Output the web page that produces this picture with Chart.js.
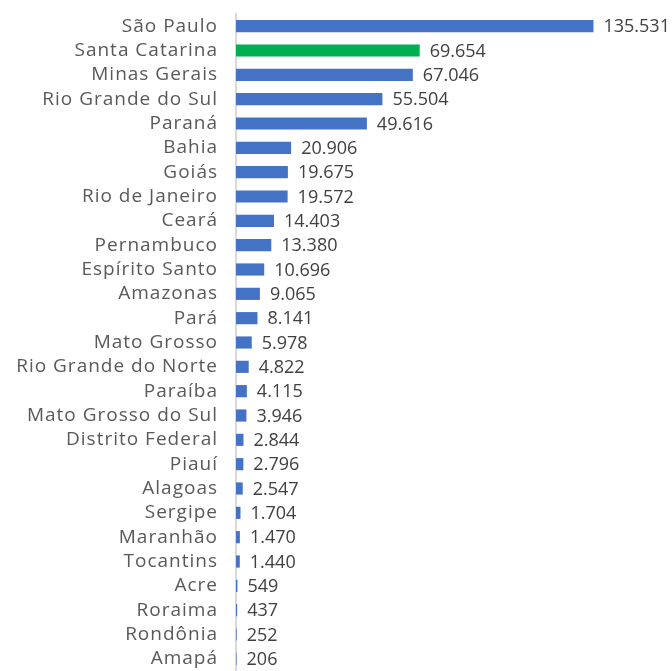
<!DOCTYPE html>
<html>
<head>
<meta charset="utf-8">
<script src="https://cdn.jsdelivr.net/npm/chart.js@4/dist/chart.umd.min.js"></script>
<style>
  html, body { margin: 0; padding: 0; background: #fff; overflow: hidden; }
</style>
</head>
<body>
<canvas id="chart" width="672" height="671"></canvas>
<script>
const states = [
  'São Paulo', 'Santa Catarina', 'Minas Gerais', 'Rio Grande do Sul', 'Paraná',
  'Bahia', 'Goiás', 'Rio de Janeiro', 'Ceará', 'Pernambuco', 'Espírito Santo',
  'Amazonas', 'Pará', 'Mato Grosso', 'Rio Grande do Norte', 'Paraíba',
  'Mato Grosso do Sul', 'Distrito Federal', 'Piauí', 'Alagoas', 'Sergipe',
  'Maranhão', 'Tocantins', 'Acre', 'Roraima', 'Rondônia', 'Amapá'
];
const values = [
  135531, 69654, 67046, 55504, 49616, 20906, 19675, 19572, 14403, 13380, 10696,
  9065, 8141, 5978, 4822, 4115, 3946, 2844, 2796, 2547, 1704, 1470, 1440,
  549, 437, 252, 206
];
const highlight = 'Santa Catarina';

const blue = '#4472C4';
const green = '#00B050';
const fontFamily = '"Open Sans", sans-serif';

const fmt = v => v.toLocaleString('pt-BR');

// wider tracking for the state names, normal for the value labels
const spacing = {
  id: 'spacing',
  beforeDraw(chart) { chart.ctx.letterSpacing = '1px'; },
  beforeDatasetsDraw(chart) { chart.ctx.letterSpacing = '0px'; },
};

const valueLabels = {
  id: 'valueLabels',
  afterDatasetsDraw(chart) {
    const ctx = chart.ctx;
    const meta = chart.getDatasetMeta(0);
    ctx.save();
    ctx.font = `18px ${fontFamily}`;
    ctx.fillStyle = '#404040';
    ctx.textAlign = 'left';
    ctx.textBaseline = 'middle';
    meta.data.forEach((bar, i) => {
      ctx.fillText(fmt(values[i]), bar.x + 10, bar.y + 1);
    });
    ctx.restore();
  }
};

new Chart(document.getElementById('chart'), {
  type: 'bar',
  data: {
    labels: states,
    datasets: [{
      data: values,
      backgroundColor: states.map(s => s === highlight ? green : blue),
      categoryPercentage: 1,
      barPercentage: 0.5,
    }],
  },
  options: {
    indexAxis: 'y',
    responsive: false,
    animation: false,
    layout: { padding: { top: 14, right: 14, bottom: 0, left: 0 } },
    plugins: {
      legend: { display: false },
      tooltip: { enabled: false },
    },
    scales: {
      x: {
        display: false,
        min: 0,
        max: 160000,
      },
      y: {
        grid: { display: false, drawTicks: false },
        border: { color: '#d9d9d9', width: 2 },
        afterFit(scale) {
          scale.width = 236;
          scale.paddingTop = 0;
          scale.paddingBottom = 0;
        },
        ticks: {
          color: '#595959',
          padding: 18,
          autoSkip: false,
          font: { size: 19, family: fontFamily },
        },
      },
    },
  },
  plugins: [spacing, valueLabels],
});
</script>
</body>
</html>
